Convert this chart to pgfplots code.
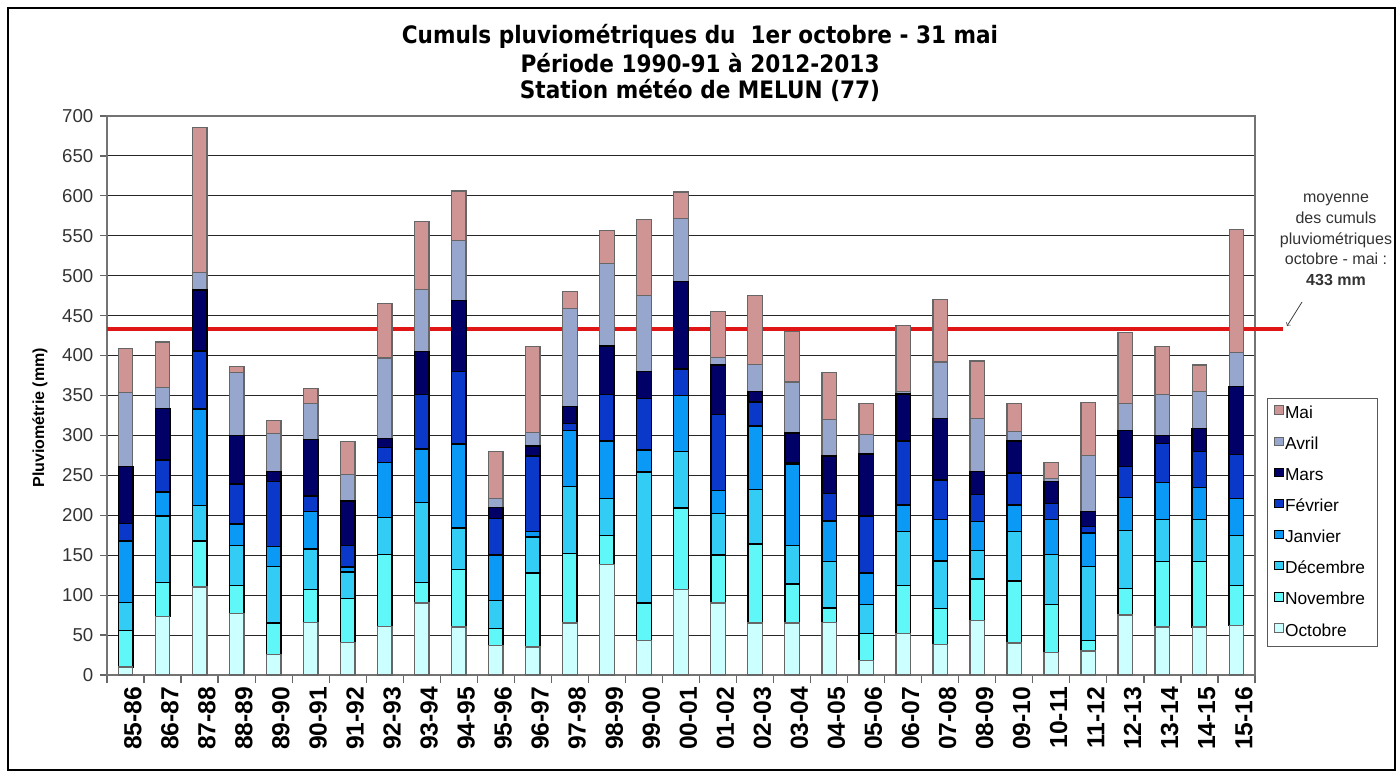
\documentclass[border=0pt]{standalone}
\usepackage{graphicx}
\usepackage{fontspec}
\setmainfont{Liberation Sans}
\newfontfamily\titlefont{DejaVu Sans}
\usepackage{pgfplots}
\usepackage{pgfplotstable}
\pgfplotsset{compat=1.18}

\definecolor{cOct}{HTML}{CCFFFF}
\definecolor{cNov}{HTML}{5FF7F7}
\definecolor{cDec}{HTML}{33CCF5}
\definecolor{cJan}{HTML}{0A99F5}
\definecolor{cFev}{HTML}{0A38C8}
\definecolor{cMar}{HTML}{000066}
\definecolor{cAvr}{HTML}{96A6CC}
\definecolor{cMai}{HTML}{CF9595}
\definecolor{cRed}{HTML}{E01515}

\pgfplotstableread{
x  oct nov dec jan fev mar avr mai
0  10  46  35  77  22  71  93  55
1  73  43  83  30  40  65  26  57
2  110 58  44  121 73  76  22  182
3  77  35  50  27  50  61  79  7
4  26  39  71  25  81  13  47  17
5  66  41  51  47  19  71  45  19
6  41  55  33  6   27  56  33  41
7  61  90  46  69  19  11  101 68
8  90  26  100 67  68  54  78  85
9  60  72  52  105 91  89  75  62
10 37  21  35  57  46  14  11  59
11 35  93  45  7   94  13  17  107
12 65  87  84  70  9   21  123 21
13 138 37  46  72  58  61  103 42
14 43  47  164 28  64  34  95  95
15 107 102 71  70  33  110 79  33
16 90  60  52  29  95  62  10  57
17 65  99  68  80  30  13  34  86
18 65  49  48  102 2   37  64  63
19 66  18  58  51  34  47  46  59
20 18  34  36  40  71  78  24  39
21 52  60  68  33  80  59  3   83
22 38  45  60  52  49  77  71  78
23 68  52  36  36  34  29  66  72
24 40  78  62  33  40  40  12  35
25 28  60  63  44  20  27  4   20
26 30  13  93  42  8   19  70  66
27 75  33  73  41  39  45  34  89
28 60  82  53  46  49  10  51  60
29 60  82  53  40  45  29  46  33
30 62  50  63  46  55  85  43  154
}\data

\begin{document}
\begin{tikzpicture}
\useasboundingbox (0,0) rectangle (1050pt,581.25pt);
\begin{axis}[
  at={(80.25pt,75pt)}, anchor=south west,
  scale only axis, width=861pt, height=419.25pt,
  ybar stacked, bar width=10.9pt,
  xmin=-0.5, xmax=30.5, ymin=0, ymax=700,
  ytick={0,50,...,700},
  xtick={0,...,30},
  xticklabels={85-86,86-87,87-88,88-89,89-90,90-91,91-92,92-93,93-94,94-95,95-96,96-97,97-98,98-99,99-00,00-01,01-02,02-03,03-04,04-05,05-06,06-07,07-08,08-09,09-10,10-11,11-12,12-13,13-14,14-15,15-16},
  minor xtick={-0.5,0.5,...,30.5},
  xtick pos=lower, ytick pos=left,
  tick align=outside,
  major tick length=5.25pt,
  minor tick length=6pt,
  major x tick style={draw=none},
  minor x tick style={black!60, line width=0.9pt},
  y tick style={black!60, line width=0.9pt},
  axis line style={black!55, line width=1.1pt},
  ymajorgrids,
  major grid style={black!85, line width=0.75pt},
  clip=false,
  /pgf/number format/assume math mode=true,
  yticklabel style={font=\fontsize{14}{14}\selectfont, text=black!80, xshift=-1.5pt},
  xticklabel style={rotate=90, anchor=east, font=\bfseries\fontsize{18.5}{18.5}\selectfont, yshift=-5.5pt},
  ylabel={\textbf{Pluviométrie (mm)}},
  ylabel style={at={(axis description cs:-0.0584,0.46)}, anchor=center, font=\fontsize{12}{12}\selectfont},
  legend style={at={(1.0105,0.4955)}, anchor=north west, draw=black!65, line width=0.8pt,
    font=\fontsize{13}{13}\selectfont, inner xsep=5pt, inner ysep=4.5pt,
    row sep=9.3pt,
    nodes={inner sep=1pt, text height=9.5pt, text depth=2.5pt, text width=63pt, align=left}},
  legend cell align=left,
  reverse legend,
  legend image code/.code={\draw[#1,line width=0.6pt] (0pt,-0.5pt) rectangle (6.5pt,6pt);},
]
\addplot[fill=cOct, draw=black!60, line width=1pt] table[x=x,y=oct]{\data};
\addplot[fill=cNov, draw=black, line width=1.1pt] table[x=x,y=nov]{\data};
\addplot[fill=cDec, draw=black, line width=1.1pt] table[x=x,y=dec]{\data};
\addplot[fill=cJan, draw=black, line width=1.1pt] table[x=x,y=jan]{\data};
\addplot[fill=cFev, draw=black, line width=1.1pt] table[x=x,y=fev]{\data};
\addplot[fill=cMar, draw=black, line width=1.1pt] table[x=x,y=mar]{\data};
\addplot[fill=cAvr, draw=black!60, line width=1pt] table[x=x,y=avr]{\data};
\addplot[fill=cMai, draw=black!60, line width=1pt] table[x=x,y=mai]{\data};
\legend{Octobre,Novembre,Décembre,Janvier,Février,Mars,Avril,Mai}
\draw[cRed, line width=2.6pt] (axis cs:-0.5,433) -- (axis cs:31.25,433);
\end{axis}
\begin{scope}[x=0.75pt, y=-0.75pt, shift={(0,581.25pt)}]
  \draw[black, line width=1.6pt] (8,8) rectangle (1395,770);
  \begin{scope}[every node/.style={font=\titlefont\bfseries\fontsize{18}{18}\selectfont, inner sep=0pt}]
    \node at (700,36) {\scalebox{0.9}[1.0]{Cumuls pluviométriques du\ \ 1er octobre - 31 mai}};
    \node at (700,63) {\scalebox{0.9}[1.0]{Période 1990-91 à 2012-2013}};
    \node at (700,90) {\scalebox{0.9}[1.0]{Station météo de MELUN (77)}};
  \end{scope}
  \node[align=center, text=black!80, font=\fontsize{12}{15.5}\selectfont] at (1336,240)
    {moyenne\\des cumuls\\pluviométriques\\octobre - mai :\\\textbf{433 mm}};
  \draw[black!75, line width=0.6pt, ->] (1302,302) -- (1287,326);
\end{scope}
\end{tikzpicture}
\end{document}
